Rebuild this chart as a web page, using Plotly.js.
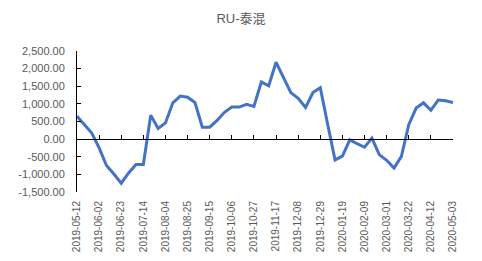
<!DOCTYPE html>
<html>
<head>
<meta charset="utf-8">
<script src="https://cdn.plot.ly/plotly-3.0.1.min.js"></script>
<style>html,body{margin:0;padding:0;background:#fff;}#chart{width:482px;height:261px;}</style>
</head>
<body>
<div id="chart"></div>
<script>
var dates = [
  "2019-05-12","2019-05-19","2019-05-26","2019-06-02","2019-06-09","2019-06-16","2019-06-23","2019-06-30",
  "2019-07-07","2019-07-14","2019-07-21","2019-07-28","2019-08-04","2019-08-11","2019-08-18","2019-08-25",
  "2019-09-01","2019-09-08","2019-09-15","2019-09-22","2019-09-29","2019-10-06","2019-10-13","2019-10-20",
  "2019-10-27","2019-11-03","2019-11-10","2019-11-17","2019-11-24","2019-12-01","2019-12-08","2019-12-15",
  "2019-12-22","2019-12-29","2020-01-05","2020-01-12","2020-01-19","2020-01-26","2020-02-02","2020-02-09",
  "2020-02-16","2020-02-23","2020-03-01","2020-03-08","2020-03-15","2020-03-22","2020-03-29","2020-04-05",
  "2020-04-12","2020-04-19","2020-04-26","2020-05-03"
];
var spread = [
  650, 400, 170, -250, -750, -990, -1250, -960,
  -720, -720, 680, 300, 460, 1030, 1220, 1190,
  1040, 340, 340, 530, 760, 910, 910, 990,
  930, 1620, 1510, 2180, 1770, 1320, 1160, 900,
  1320, 1460, 420, -590, -480, -20, -130, -230,
  30, -440, -600, -820, -490, 410, 880, 1030,
  820, 1110, 1090, 1040
];
var tickLabels = [
  "2019-05-12","2019-06-02","2019-06-23","2019-07-14","2019-08-04","2019-08-25","2019-09-15","2019-10-06",
  "2019-10-27","2019-11-17","2019-12-08","2019-12-29","2020-01-19","2020-02-09","2020-03-01","2020-03-22",
  "2020-04-12","2020-05-03"
];
var yTickVals = [-1500, -1000, -500, 0, 500, 1000, 1500, 2000, 2500];
var yTickText = ["-1,500.00","-1,000.00","-500.00","0.00","500.00","1,000.00","1,500.00","2,000.00","2,500.00"];

var font = "Liberation Sans, Arial, Noto Sans CJK SC, sans-serif";
var traces = [
  {x: dates, y: spread, type: "scatter", mode: "lines", xaxis: "x", yaxis: "y",
   line: {color: "#4472C4", width: 3}, hoverinfo: "skip", showlegend: false},
  {x: dates, y: spread, type: "scatter", mode: "lines", xaxis: "x2", yaxis: "y",
   line: {color: "rgba(0,0,0,0)", width: 0}, hoverinfo: "skip", showlegend: false}
];
var layout = {
  width: 482, height: 261,
  margin: {l: 77, r: 29, t: 51, b: 69},
  paper_bgcolor: "#fff", plot_bgcolor: "#fff",
  font: {family: font, color: "#595959"},
  title: {text: "RU-泰混", font: {size: 13, color: "#595959", family: font},
          xref: "container", x: 0.5, xanchor: "center", yref: "container", y: 0.93, yanchor: "middle"},
  xaxis: {type: "category", range: [0, 51], tickmode: "array", tickvals: tickLabels, ticktext: tickLabels,
          tickangle: -90, showline: false, ticks: "", showgrid: false, zeroline: false,
          tickfont: {size: 10, color: "#595959"}, ticklabelstandoff: 6, fixedrange: true},
  xaxis2: {type: "category", overlaying: "x", anchor: "free", position: 0.375, range: [0, 51],
           tickmode: "array", tickvals: tickLabels, showticklabels: false, ticks: "inside", ticklen: 4,
           tickcolor: "#000", tickwidth: 1, showline: true, linecolor: "#000", linewidth: 1,
           showgrid: false, zeroline: false, fixedrange: true},
  yaxis: {range: [-1500, 2500], tickmode: "array", tickvals: yTickVals, ticktext: yTickText,
          ticks: "inside", ticklen: 4, tickcolor: "#000", showline: true, linecolor: "#000", linewidth: 1,
          showgrid: false, zeroline: false, tickfont: {size: 11, color: "#595959"},
          ticklabelstandoff: 9, fixedrange: true}
};
Plotly.newPlot("chart", traces, layout, {displayModeBar: false, staticPlot: true});
</script>
</body>
</html>
